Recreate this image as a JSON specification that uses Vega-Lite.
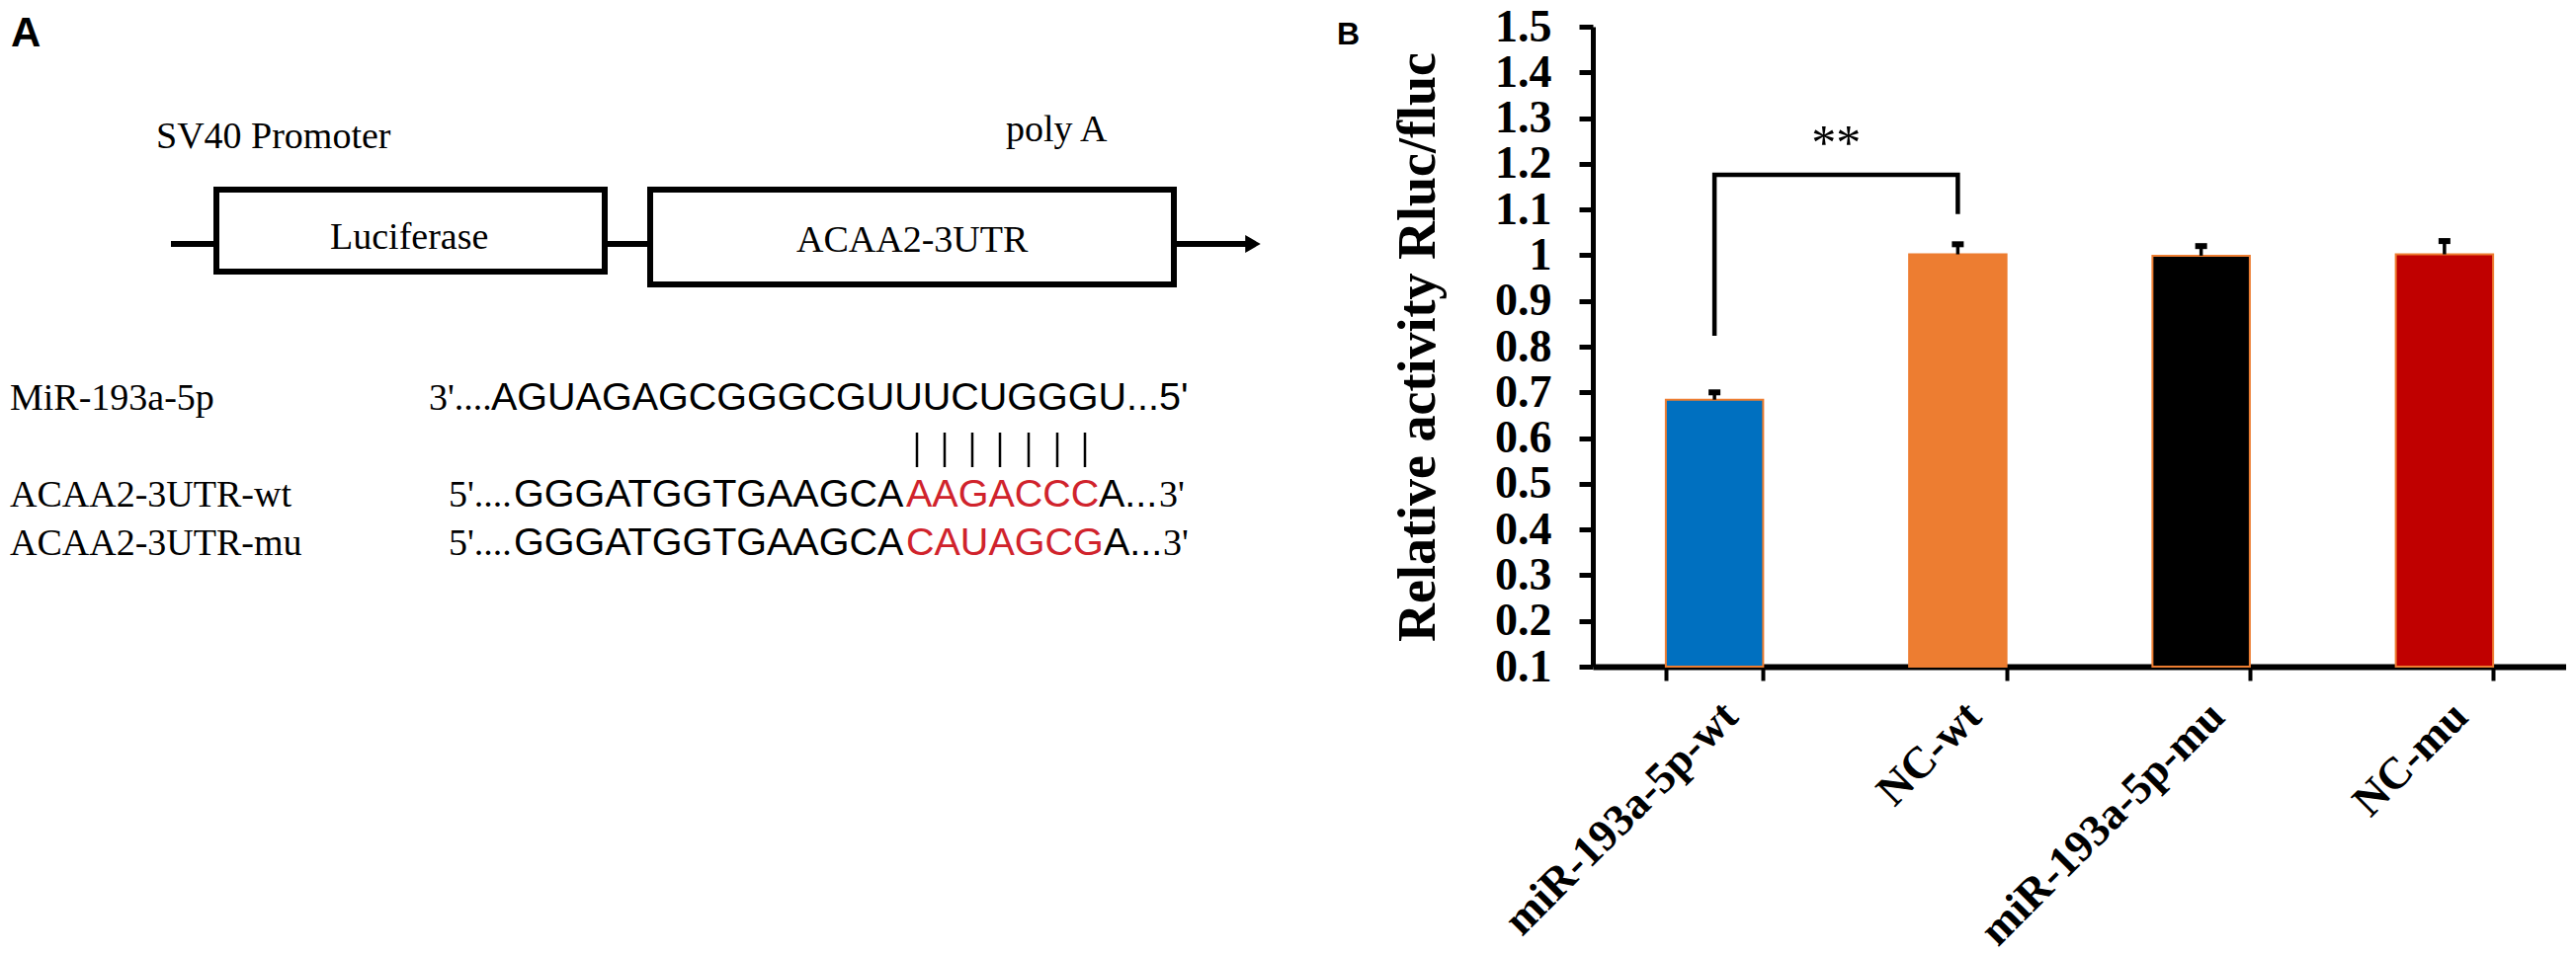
{
  "$schema": "https://vega.github.io/schema/vega-lite/v6.json",
  "padding": {"top": 4, "left": 0, "right": 0, "bottom": 0},
  "background": "white",
  "bounds": "flush",
  "spacing": 212,
  "config": {"view": {"stroke": null}, "font": "Liberation Serif"},
  "datasets": {
    "backbone": [
      {"x": 173, "x2": 219, "y": 247},
      {"x": 612, "x2": 658, "y": 247},
      {"x": 1188, "x2": 1266, "y": 247}
    ],
    "arrowhead": [{"x": 1268, "y": 247}],
    "boxes": [
      {"x": 219, "x2": 612, "y": 192, "y2": 275},
      {"x": 658, "x2": 1188, "y": 192, "y2": 288}
    ],
    "pairs": [
      {"x": 928, "y": 438, "y2": 473},
      {"x": 956, "y": 438, "y2": 473},
      {"x": 984, "y": 438, "y2": 473},
      {"x": 1012, "y": 438, "y2": 473},
      {"x": 1041, "y": 438, "y2": 473},
      {"x": 1070, "y": 438, "y2": 473},
      {"x": 1098, "y": 438, "y2": 473}
    ],
    "captions": [
      {"text": "SV40 Promoter", "x": 158, "y": 150},
      {"text": "poly A", "x": 1018, "y": 143},
      {"text": "Luciferase", "x": 334, "y": 252},
      {"text": "ACAA2-3UTR", "x": 806, "y": 255},
      {"text": "MiR-193a-5p", "x": 10, "y": 415},
      {"text": "ACAA2-3UTR-wt", "x": 10, "y": 513},
      {"text": "ACAA2-3UTR-mu", "x": 10, "y": 562},
      {"text": "3'....", "x": 434, "y": 415},
      {"text": "5'....", "x": 454, "y": 513},
      {"text": "5'....", "x": 454, "y": 562},
      {"text": "3'", "x": 1173, "y": 513},
      {"text": "3'", "x": 1177, "y": 562}
    ],
    "sequences": [
      {"text": "AGUAGAGCGGGCGUUUCUGGGU...5'", "x": 497, "y": 415, "site": "flank"},
      {"text": "GGGATGGTGAAGCA", "x": 520, "y": 513, "site": "flank"},
      {"text": "AAGACCC", "x": 917, "y": 513, "site": "target"},
      {"text": "A...", "x": 1112, "y": 513, "site": "flank"},
      {"text": "GGGATGGTGAAGCA", "x": 520, "y": 562, "site": "flank"},
      {"text": "CAUAGCG", "x": 917, "y": 562, "site": "target"},
      {"text": "A...", "x": 1117, "y": 562, "site": "flank"}
    ],
    "panels": [
      {"text": "A", "x": 11, "y": 47},
      {"text": "B", "x": 1353, "y": 45}
    ],
    "bars": [
      {"group": "miR-193a-5p-wt", "value": 0.684, "upper": 0.7},
      {"group": "NC-wt", "value": 1.002, "upper": 1.024},
      {"group": "miR-193a-5p-mu", "value": 0.999, "upper": 1.02},
      {"group": "NC-mu", "value": 1.002, "upper": 1.031}
    ],
    "bracket": [
      {"group": "miR-193a-5p-wt", "level": 0.824, "step": 1},
      {"group": "miR-193a-5p-wt", "level": 1.176, "step": 2},
      {"group": "NC-wt", "level": 1.176, "step": 3},
      {"group": "NC-wt", "level": 1.09, "step": 4}
    ],
    "significance": [
      {"group": "miR-193a-5p-wt", "level": 1.21, "label": "**"}
    ]
  },
  "resolve": {"scale": {"color": "independent"}},
  "hconcat": [
    {
      "width": 1400,
      "height": 900,
      "layer": [
        {
          "data": {"name": "backbone"},
          "mark": {"type": "rule", "strokeWidth": 6, "color": "black"},
          "encoding": {
            "x": {"field": "x", "type": "quantitative", "scale": {"domain": [0, 1400], "nice": false, "zero": false}, "axis": null},
            "x2": {"field": "x2"},
            "y": {"field": "y", "type": "quantitative", "scale": {"domain": [27, 927], "reverse": true, "nice": false, "zero": false}, "axis": null}
          }
        },
        {
          "data": {"name": "arrowhead"},
          "mark": {"type": "point", "shape": "triangle-right", "filled": true, "size": 320, "color": "black", "opacity": 1},
          "encoding": {
            "x": {"field": "x", "type": "quantitative"},
            "y": {"field": "y", "type": "quantitative"}
          }
        },
        {
          "data": {"name": "boxes"},
          "mark": {"type": "rect", "filled": false, "stroke": "black", "strokeWidth": 6},
          "encoding": {
            "x": {"field": "x", "type": "quantitative"},
            "x2": {"field": "x2"},
            "y": {"field": "y", "type": "quantitative"},
            "y2": {"field": "y2"}
          }
        },
        {
          "data": {"name": "pairs"},
          "mark": {"type": "rule", "strokeWidth": 2.5, "color": "black"},
          "encoding": {
            "x": {"field": "x", "type": "quantitative"},
            "y": {"field": "y", "type": "quantitative"},
            "y2": {"field": "y2"}
          }
        },
        {
          "data": {"name": "captions"},
          "mark": {"type": "text", "font": "Liberation Serif", "fontSize": 38, "align": "left", "baseline": "alphabetic", "color": "black"},
          "encoding": {
            "x": {"field": "x", "type": "quantitative"},
            "y": {"field": "y", "type": "quantitative"},
            "text": {"field": "text"}
          }
        },
        {
          "data": {"name": "sequences"},
          "transform": [{"filter": "datum.site === 'flank'"}],
          "mark": {"type": "text", "font": "Liberation Sans", "fontSize": 39.5, "align": "left", "baseline": "alphabetic", "color": "#000000"},
          "encoding": {
            "x": {"field": "x", "type": "quantitative"},
            "y": {"field": "y", "type": "quantitative"},
            "text": {"field": "text"}
          }
        },
        {
          "data": {"name": "sequences"},
          "transform": [{"filter": "datum.site === 'target'"}],
          "mark": {"type": "text", "font": "Liberation Sans", "fontSize": 39.5, "align": "left", "baseline": "alphabetic", "color": "#d0232c"},
          "encoding": {
            "x": {"field": "x", "type": "quantitative"},
            "y": {"field": "y", "type": "quantitative"},
            "text": {"field": "text"}
          }
        },
        {
          "data": {"name": "panels"},
          "transform": [{"filter": "datum.text === 'A'"}],
          "mark": {"type": "text", "font": "Liberation Sans", "fontWeight": "bold", "fontSize": 42, "align": "left", "baseline": "alphabetic", "color": "black"},
          "encoding": {
            "x": {"field": "x", "type": "quantitative"},
            "y": {"field": "y", "type": "quantitative"},
            "text": {"field": "text"}
          }
        },
        {
          "data": {"name": "panels"},
          "transform": [{"filter": "datum.text === 'B'"}],
          "mark": {"type": "text", "font": "Liberation Sans", "fontWeight": "bold", "fontSize": 32, "align": "left", "baseline": "alphabetic", "color": "black"},
          "encoding": {
            "x": {"field": "x", "type": "quantitative"},
            "y": {"field": "y", "type": "quantitative"},
            "text": {"field": "text"}
          }
        }
      ]
    },
    {
      "width": 985,
      "height": 648,
      "layer": [
        {
          "data": {"name": "bars"},
          "mark": {"type": "bar", "stroke": "#ED7D31", "strokeWidth": 2},
          "encoding": {
            "x": {
              "field": "group", "type": "nominal", "sort": null,
              "scale": {"domain": ["miR-193a-5p-wt", "NC-wt", "miR-193a-5p-mu", "NC-mu"], "paddingInner": 0.6, "paddingOuter": 0.3},
              "axis": {
                "title": null, "labelAngle": -45, "labelFont": "Liberation Serif", "labelFontWeight": "bold", "labelFontSize": 45,
                "labelColor": "black", "labelPadding": 13, "labelLimit": 1000, "labelOverlap": false,
                "tickBand": "extent", "tickSize": 14, "tickWidth": 4, "tickColor": "black",
                "domainColor": "black", "domainWidth": 6
              }
            },
            "y": {
              "field": "value", "type": "quantitative",
              "scale": {"domain": [0.1, 1.5], "nice": false, "zero": false},
              "axis": {
                "values": [0.1, 0.2, 0.3, 0.4, 0.5, 0.6, 0.7, 0.8, 0.9, 1, 1.1, 1.2, 1.3, 1.4, 1.5],
                "format": "~g", "grid": false, "labelOverlap": false,
                "labelFont": "Liberation Serif", "labelFontWeight": "bold", "labelFontSize": 46, "labelColor": "black", "labelPadding": 28,
                "tickSize": 14, "tickWidth": 5, "tickColor": "black", "domainColor": "black", "domainWidth": 5,
                "title": "Relative activity Rluc/fluc", "titleFont": "Liberation Serif", "titleFontSize": 54, "titleFontWeight": "bold",
                "titleColor": "black", "titlePadding": 50, "titleLimit": 1000
              }
            },
            "y2": {"datum": 0.1},
            "color": {
              "field": "group", "type": "nominal",
              "scale": {"domain": ["miR-193a-5p-wt", "NC-wt", "miR-193a-5p-mu", "NC-mu"], "range": ["#0070C0", "#ED7D31", "#000000", "#C00000"]},
              "legend": null
            }
          }
        },
        {
          "data": {"name": "bars"},
          "mark": {"type": "rule", "strokeWidth": 3.5, "color": "black"},
          "encoding": {
            "x": {"field": "group", "type": "nominal", "sort": null},
            "y": {"field": "value", "type": "quantitative"},
            "y2": {"field": "upper"}
          }
        },
        {
          "data": {"name": "bars"},
          "mark": {"type": "tick", "thickness": 6, "size": 12, "color": "black", "opacity": 1},
          "encoding": {
            "x": {"field": "group", "type": "nominal", "sort": null},
            "y": {"field": "upper", "type": "quantitative"}
          }
        },
        {
          "data": {"name": "bracket"},
          "mark": {"type": "line", "color": "black", "strokeWidth": 4.5, "strokeJoin": "miter"},
          "encoding": {
            "x": {"field": "group", "type": "nominal", "sort": null},
            "y": {"field": "level", "type": "quantitative"},
            "order": {"field": "step", "type": "quantitative"}
          }
        },
        {
          "data": {"name": "significance"},
          "mark": {"type": "text", "font": "Liberation Serif", "fontSize": 50, "align": "center", "baseline": "alphabetic", "color": "black"},
          "encoding": {
            "x": {"field": "group", "type": "nominal", "sort": null, "bandPosition": 1.75},
            "y": {"field": "level", "type": "quantitative"},
            "text": {"field": "label"}
          }
        }
      ]
    }
  ]
}
